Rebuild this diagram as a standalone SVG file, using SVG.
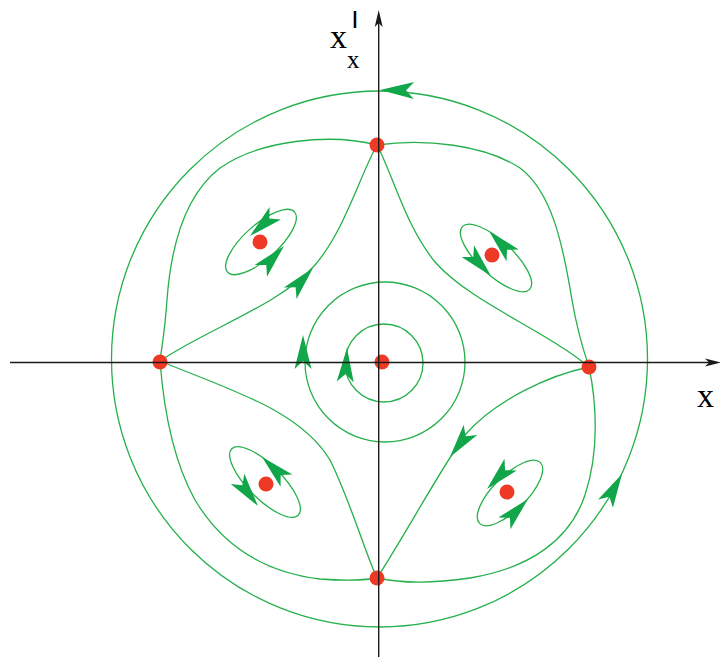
<svg xmlns="http://www.w3.org/2000/svg" xmlns:xlink="http://www.w3.org/1999/xlink" width="720" height="657" viewBox="0 0 720 657">
<style>
.g{fill:none;stroke:#25b04b;stroke-width:1.3}
.ah{fill:#12a64a;stroke:none}
.dot{fill:#ee3a24}
.ax{stroke:#1a1a1a;stroke-width:1.4;fill:none}
.axh{fill:#1a1a1a}
.lbl{font-family:"Liberation Serif","Times New Roman",serif;fill:#000}
</style>
<defs>
<path id="ah" d="M0,0 L-34,-8.5 L-26,0 L-34,8.5 Z"/>
</defs>
<rect width="720" height="657" fill="#fff"/>
<g id="connectors">
<circle class="g" cx="379.5" cy="359" r="268"/>
<circle class="g" cx="385" cy="362" r="80"/>
<circle class="g" cx="384" cy="363" r="39"/>
<!-- outer separatrix -->
<path class="g" d="M377,145 C330,133 260,140 220,168 C185,195 171,245 167,300 C165,330 162,345 160,361"/>
<path class="g" d="M377,145 C425,138 485,145 520,168 C552,192 563,245 572,300 C578,335 584,352 589,367"/>
<path class="g" d="M589,367 C596,400 600,450 585,495 C570,540 530,568 470,578 C430,584 400,583 377,578"/>
<path class="g" d="M160,361 C163,400 170,455 195,500 C222,545 262,572 320,579 C345,581 365,580 377,578"/>
<!-- inner star -->
<path class="g" d="M377,145 C360,175 345,230 315,265 C280,305 205,330 160,361"/>
<path class="g" d="M377,145 C393,175 405,225 435,262 C470,302 545,330 589,367"/>
<path class="g" d="M589,367 C550,375 495,400 465,435 C440,470 405,535 377,578"/>
<path class="g" d="M377,578 C367,558 350,500 330,460 C300,410 230,390 160,361"/>
<!-- ellipses -->
<ellipse class="g" cx="261" cy="242" rx="45" ry="17" transform="rotate(-42 261 242)"/>
<ellipse class="g" cx="496" cy="258" rx="46" ry="17" transform="rotate(43 496 258)"/>
<ellipse class="g" cx="265" cy="482" rx="47" ry="17" transform="rotate(45 265 482)"/>
<ellipse class="g" cx="510" cy="493" rx="43" ry="17" transform="rotate(-45 510 493)"/>
</g>
<g id="arrows">
<use href="#ah" class="ah" transform="translate(380,90) rotate(181)"/>
<use href="#ah" class="ah" transform="translate(622,474) rotate(-61)"/>
<use href="#ah" class="ah" transform="translate(303,335) rotate(-90)"/>
<use href="#ah" class="ah" transform="translate(347,348) rotate(-87)"/>
<use href="#ah" class="ah" transform="translate(313,268) rotate(-48)"/>
<use href="#ah" class="ah" transform="translate(450,457) rotate(127)"/>
<use href="#ah" class="ah" transform="translate(284,246) rotate(-47)"/>
<use href="#ah" class="ah" transform="translate(250,236) rotate(138)"/>
<use href="#ah" class="ah" transform="translate(489,231) rotate(226)"/>
<use href="#ah" class="ah" transform="translate(491,276) rotate(47)"/>
<use href="#ah" class="ah" transform="translate(262,457) rotate(224)"/>
<use href="#ah" class="ah" transform="translate(258,506) rotate(53)"/>
<use href="#ah" class="ah" transform="translate(487,489) rotate(134)"/>
<use href="#ah" class="ah" transform="translate(528,499) rotate(-46)"/>
</g>
<g id="points">
<circle id="p-center" class="dot" cx="382" cy="362" r="7.5"/>
<circle id="p-top" class="dot" cx="377" cy="145" r="7.5"/>
<circle id="p-bottom" class="dot" cx="377" cy="578" r="7.5"/>
<circle id="p-left" class="dot" cx="160" cy="362" r="7.5"/>
<circle id="p-right" class="dot" cx="589" cy="367" r="7.5"/>
<circle id="p-ul" class="dot" cx="260" cy="242" r="7.5"/>
<circle id="p-ur" class="dot" cx="492" cy="255" r="7.5"/>
<circle id="p-ll" class="dot" cx="266" cy="484" r="7.5"/>
<circle id="p-lr" class="dot" cx="507" cy="492" r="7.5"/>
</g>
<g id="axes">
<line class="ax" x1="378.7" y1="20" x2="378.7" y2="657"/>
<path class="axh" d="M378.7,10 L374.7,27 L378.7,23 L382.7,27 Z"/>
<line class="ax" x1="10" y1="362.5" x2="712" y2="362.5"/>
<path class="axh" d="M721,362.5 L705,358.5 L709,362.5 L705,366.5 Z"/>
</g>
<g id="labels">
<text class="lbl" x="330" y="48" font-size="34">x</text>
<text class="lbl" x="347" y="68" font-size="25">x</text>
<text x="355" y="24" text-anchor="middle" font-family="Liberation Sans, Arial, sans-serif" font-weight="bold" font-size="19">|</text>
<text class="lbl" x="697" y="407" font-size="34">x</text>
</g>
</svg>
